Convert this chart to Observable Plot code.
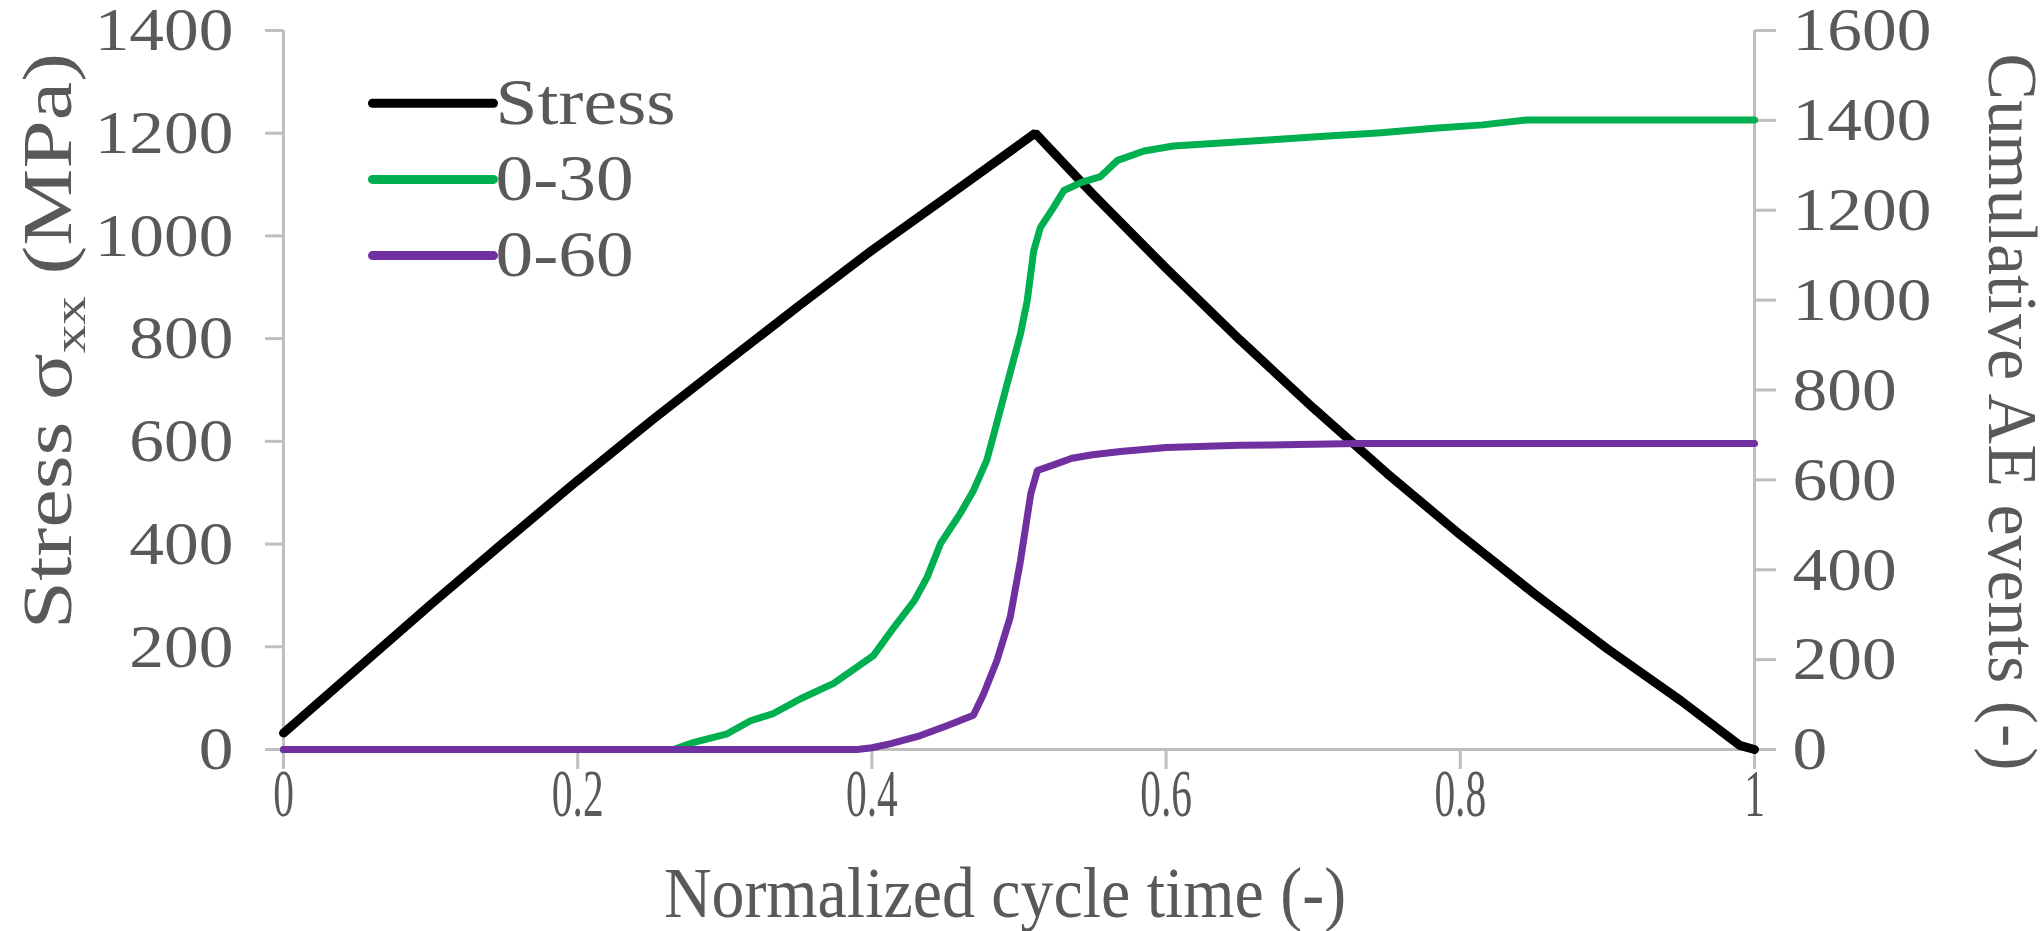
<!DOCTYPE html>
<html>
<head>
<meta charset="utf-8">
<script src="https://cdn.jsdelivr.net/npm/d3@7"></script>
<script src="https://cdn.jsdelivr.net/npm/@observablehq/plot@0.6"></script>
<style>
  html, body { margin: 0; padding: 0; background: #ffffff; }
  #chart svg { display: block; }
</style>
</head>
<body>
<div id="chart"></div>
<script>
// ---------------- data ----------------
const stressTime = [0, 0.05, 0.1, 0.15, 0.2, 0.25, 0.3, 0.35, 0.4, 0.45, 0.511, 0.55, 0.6, 0.65, 0.7, 0.75, 0.8, 0.85, 0.9, 0.95, 0.99, 1];
const stressMPa  = [32, 157, 282, 404, 524, 640, 752, 863, 972, 1074, 1200, 1082, 937, 798, 665, 538, 418, 304, 196, 95, 8, 0];

const time030   = [0, 0.265, 0.279, 0.3016, 0.3175, 0.333, 0.3515, 0.374, 0.401, 0.415, 0.429, 0.4375, 0.4466, 0.46, 0.469, 0.478, 0.483, 0.492, 0.501, 0.5056, 0.51, 0.5146, 0.5236, 0.5305, 0.5425, 0.5554, 0.567, 0.585, 0.605, 0.64, 0.672, 0.71, 0.744, 0.78, 0.815, 0.845, 1];
const events030 = [0, 0, 16, 35, 64, 80, 113, 147, 209, 272, 332, 383, 458, 525, 576, 643, 703, 814, 925, 999, 1110, 1162, 1207, 1244, 1262, 1275, 1311, 1332, 1343, 1350, 1357, 1365, 1372, 1382, 1390, 1401, 1401];

const time060   = [0, 0.39, 0.40, 0.413, 0.433, 0.451, 0.469, 0.476, 0.485, 0.494, 0.501, 0.508, 0.5125, 0.525, 0.536, 0.55, 0.569, 0.6, 0.65, 0.7, 0.73, 1];
const events060 = [0, 0, 4, 13, 31, 53, 76, 124, 198, 294, 420, 569, 621, 635, 648, 656, 663, 672, 677, 679, 681, 681];

const xTicks     = [0, 0.2, 0.4, 0.6, 0.8, 1];
const leftTicks  = [0, 200, 400, 600, 800, 1000, 1200, 1400];
const rightTicks = [0, 200, 400, 600, 800, 1000, 1200, 1400, 1600];

const seriesNames  = ["Stress", "0-30", "0-60"];
const seriesColors = ["#000000", "#00b050", "#7030a0"];

const xTitle      = "Normalized cycle time (-)";
const yLeftTitle  = "Stress σxx (MPa)";
const yRightTitle = "Cumulative AE events (-)";

// ---------------- tables ----------------
const leftMax = 1400, rightMax = 1600;
const toLeft = v => v * leftMax / rightMax;
const stressData = stressTime.map((t, i) => ({t, v: stressMPa[i]}));
const data030 = time030.map((t, i) => ({t, v: events030[i]}));
const data060 = time060.map((t, i) => ({t, v: events060[i]}));

const textGray = "#595959";
const axisGray = "#bfbfbf";
const swatch = { draw(ctx) { ctx.moveTo(-60.5, 0); ctx.lineTo(60.5, 0); } };

const legendMarks = seriesNames.flatMap((name, i) => [
  Plot.dot([name], {frameAnchor: "top-left", dx: 149.5, dy: 72.7 + i * 76.2, symbol: swatch,
    fill: "none", stroke: seriesColors[i], strokeWidth: 9, strokeLinecap: "round"}),
  Plot.text([name], {frameAnchor: "top-left", dx: 212, dy: 72.7 + i * 76.2, text: d => d,
    textAnchor: "start", lineAnchor: "middle", fontSize: 65, fill: textGray})
]);

const chart = Plot.plot({
  width: 2043,
  height: 931,
  marginLeft: 283,
  marginRight: 289,
  marginTop: 30,
  marginBottom: 182,
  style: {fontFamily: "'Liberation Serif', serif", background: "#ffffff", overflow: "visible"},
  x: {domain: [0, 1]},
  y: {domain: [0, leftMax]},
  marks: [
    Plot.ruleY([0], {stroke: axisGray, strokeWidth: 3}),
    Plot.ruleX([0], {stroke: axisGray, strokeWidth: 3}),
    Plot.ruleX([1], {stroke: axisGray, strokeWidth: 3}),
    Plot.axisX(xTicks, {tickSize: 20, tickPadding: -2, fontSize: 68, fill: textGray, stroke: axisGray, strokeWidth: 3,
      tickFormat: d => String(d), label: null}),
    Plot.axisY(leftTicks, {anchor: "left", tickSize: 18, tickPadding: 32, fontSize: 62, fill: textGray, stroke: axisGray, strokeWidth: 3,
      tickFormat: d => String(d), label: null}),
    Plot.axisY(rightTicks.map(toLeft), {anchor: "right", tickSize: 21, tickPadding: 17, fontSize: 62, fill: textGray, stroke: axisGray, strokeWidth: 3,
      tickFormat: d => String(Math.round(d * rightMax / leftMax)), label: null}),
    Plot.line(stressData, {x: "t", y: "v", stroke: seriesColors[0], strokeWidth: 9, strokeLinejoin: "miter"}),
    Plot.line(data030, {x: "t", y: d => toLeft(d.v), stroke: seriesColors[1], strokeWidth: 7}),
    Plot.line(data060, {x: "t", y: d => toLeft(d.v), stroke: seriesColors[2], strokeWidth: 7}),
    ...legendMarks,
    Plot.text([xTitle], {frameAnchor: "bottom", dx: -14, dy: 144, text: d => d, textAnchor: "middle", lineAnchor: "middle", fontSize: 72, fill: textGray}),
    Plot.text([yLeftTitle], {frameAnchor: "left", dx: -235, dy: -49, rotate: -90, text: d => d, textAnchor: "middle", lineAnchor: "middle", fontSize: 70, fill: textGray}),
    Plot.text([yRightTitle], {frameAnchor: "right", dx: 257, dy: 22, rotate: 90, text: d => d, textAnchor: "middle", lineAnchor: "middle", fontSize: 70, fill: textGray})
  ]
});

// text stretching to follow the reference glyph proportions
function stretch(el, sx, sy) {
  const t = el.getAttribute("transform") || "";
  el.setAttribute("transform", (t + ` scale(${sx},${sy})`).trim());
}
chart.querySelectorAll('g[aria-label="x-axis tick label"] text').forEach(el => stretch(el, 0.61, 1));
chart.querySelectorAll('g[aria-label="y-axis tick label"] text').forEach(el => stretch(el, 1.12, 1));

chart.querySelectorAll("text").forEach(el => {
  const s = el.textContent;
  if (seriesNames.includes(s)) stretch(el, 1.16, 1);
  if (s === xTitle) stretch(el, 0.915, 1);
  if (s === yLeftTitle) {
    el.textContent = "";
    const ns = "http://www.w3.org/2000/svg";
    const a = document.createElementNS(ns, "tspan"); a.textContent = "Stress σ";
    const b = document.createElementNS(ns, "tspan"); b.textContent = "xx";
    b.setAttribute("dy", "14"); b.setAttribute("font-size", "46");
    const c = document.createElementNS(ns, "tspan"); c.textContent = " (MPa)";
    c.setAttribute("dy", "-14");
    el.append(a, b, c);
    stretch(el, 1.24, 1);
  }
});

document.getElementById("chart").appendChild(chart);
</script>
</body>
</html>
